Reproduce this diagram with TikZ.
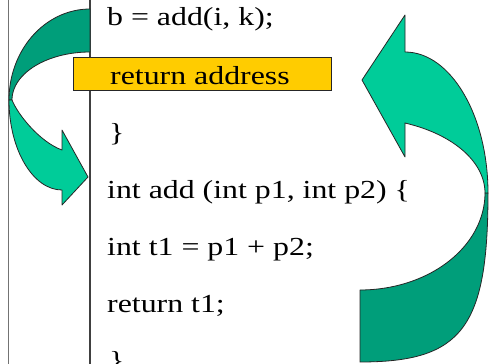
\documentclass[tikz,border=0pt]{standalone}
\usepackage{fontspec}
\setmainfont{Liberation Serif}[FakeStretch=1.225]
\definecolor{lightgrn}{RGB}{0,204,153}
\definecolor{darkgrn}{RGB}{0,158,122}
\definecolor{boxyel}{RGB}{255,204,0}
\begin{document}
\begin{tikzpicture}[x=1pt,y=-1pt,
  code/.style={anchor=base west,inner sep=0pt,font=\fontsize{26}{30}\selectfont},
  band/.style={draw=black!85,line width=0.8pt,line join=round},
]
\useasboundingbox (0,0) rectangle (491,364);
\fill[white] (0,0) rectangle (491,364);
% frame lines
\coordinate (t1) at (8,0); \coordinate (b1) at (8,364);
\coordinate (t2) at (90,0); \coordinate (b2) at (90,364);
\draw[black!55,line width=0.8pt] (t1) -- (b1);
\draw[black!75,line width=1.8pt] (t2) -- (b2);
% code lines
\node[code] (l1) at (107,26) {b = add(i, k);};
\node[code] (l3) at (109,141) {\}};
\node[code] (l4) at (107,198) {int add (int p1, int p2) \{};
\node[code] (l5) at (107,255) {int t1 = p1 + p2;};
\node[code] (l6) at (107,312) {return t1;};
\node[code] (l7) at (109,369) {\}};
% right curved arrow: back part
\draw[band,fill=darkgrn] (488,193) .. controls (488,328) and (462,362) .. (360,362)
  -- (360,290)
  -- plot[domain=90:0,samples=40,variable=\t] ({360+125*cos(\t)},{193+97*sin(\t)})
  -- cycle;
% right curved arrow: head part
\draw[band,fill=lightgrn] (488,193) .. controls (488,115.5) and (450.6,52) .. (405,52)
  -- (405,15) -- (362,80) -- (405,157) -- (405,123)
  -- plot[domain=-69:0,samples=40,variable=\t] ({360+125*cos(\t)},{193+75*sin(\t)})
  -- cycle;
% left curved arrow: back part
\draw[band,fill=darkgrn] plot[domain=270:180,samples=40,variable=\t] ({90+81*cos(\t)},{100+91*sin(\t)})
  -- plot[domain=180:270,samples=40,variable=\t] ({90+78*cos(\t)},{100+48*sin(\t)})
  -- cycle;
% left curved arrow: head part
\draw[band,fill=lightgrn] (9,100) .. controls (9,149.5) and (32.9,190) .. (62,190)
  -- (62,205) -- (88,177) -- (62,130) -- (62,150)
  .. controls (40,142) and (18,115) .. (12,100) -- cycle;
% return address box
\node[draw=black!85,line width=0.8pt,fill=boxyel,minimum width=258pt,minimum height=33pt,inner sep=0pt,anchor=north west] (box) at (73,57) {};
\node[code] (l2) at (110,84) {return address};
\end{tikzpicture}
\end{document}
